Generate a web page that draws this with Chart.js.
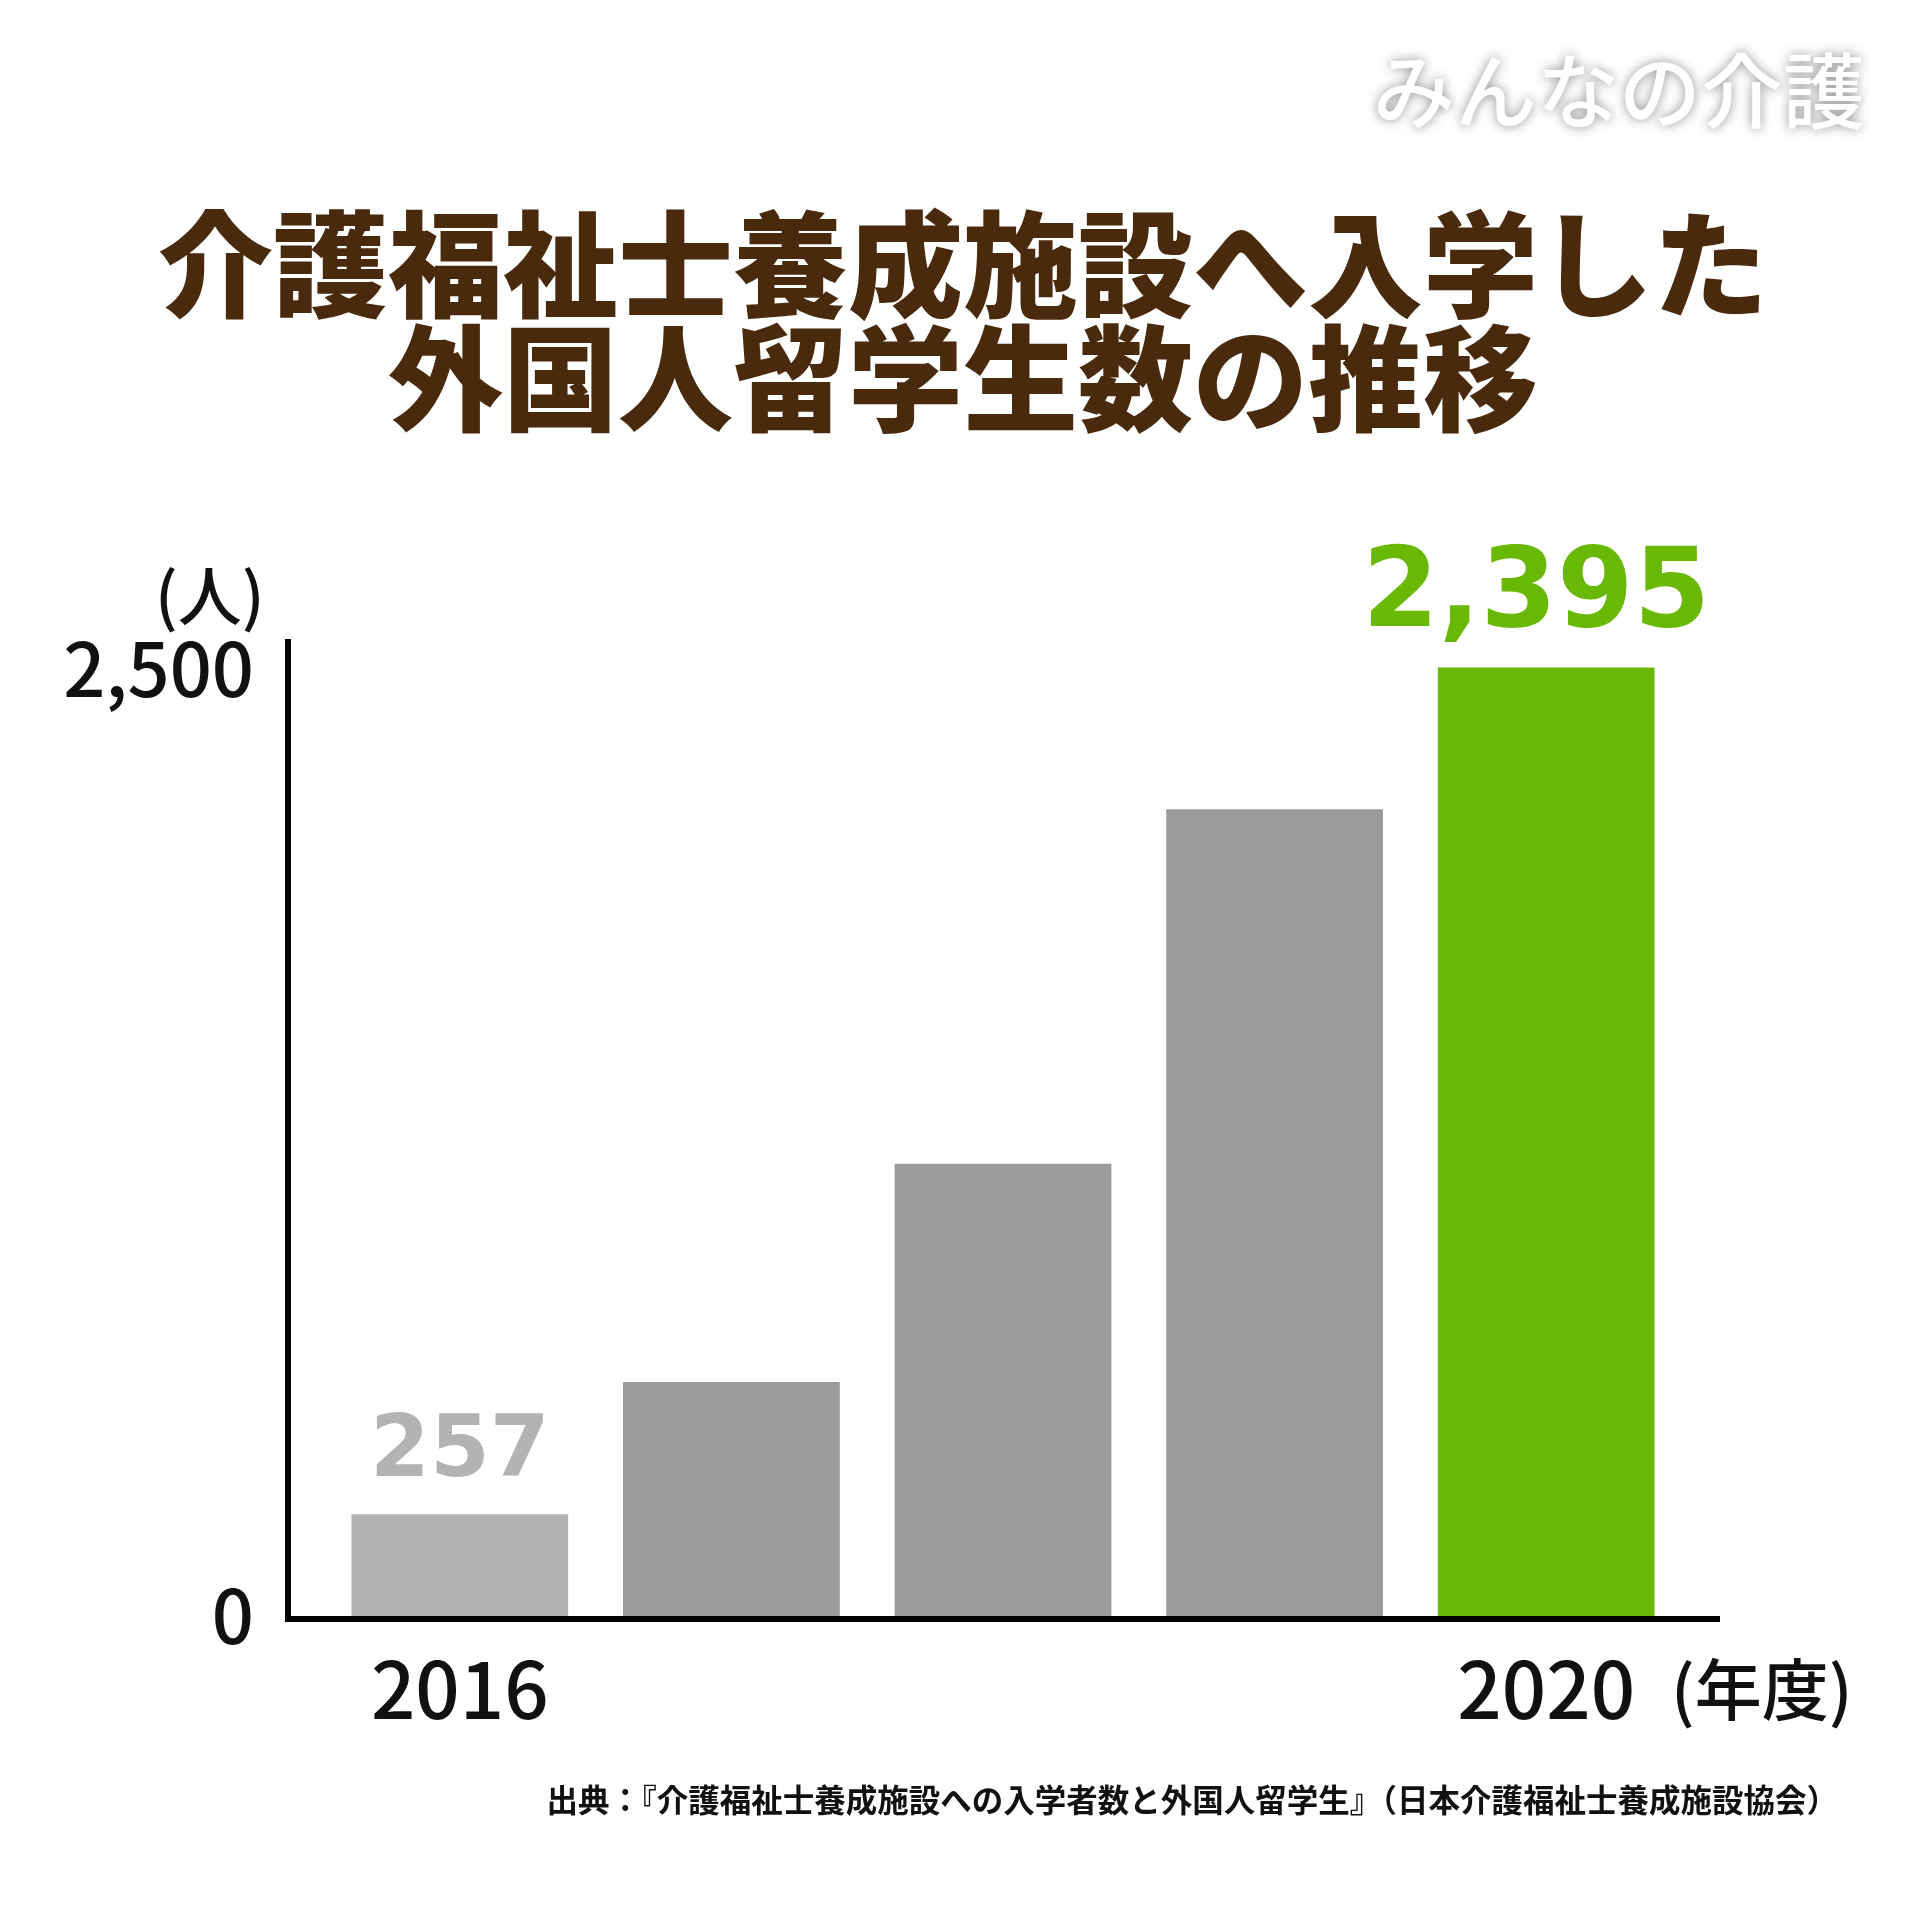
<!DOCTYPE html>
<html lang="ja">
<head>
<meta charset="utf-8">
<script src="https://cdn.jsdelivr.net/npm/chart.js@4/dist/chart.umd.min.js"></script>
<style>
  html, body { margin: 0; padding: 0; background: #fff; }
  #wrap { width: 1920px; height: 1920px; position: relative; }
</style>
</head>
<body>
<div id="wrap"><canvas id="chart" width="1920" height="1920"></canvas></div>
<script>
// Data
const years = ['2016', '2017', '2018', '2019', '2020'];
const students = [257, 591, 1142, 2037, 2395];
const barColors = ['#b3b3b3', '#9b9b9b', '#9b9b9b', '#9b9b9b', '#69b804'];
const labelColors = ['#b3b3b3', null, null, null, '#69b804'];
const yTicks = [0, 2500];

const titleLines = ['介護福祉士養成施設へ入学した', '外国人留学生数の推移'];
const sourceText = '出典：『介護福祉士養成施設への入学者数と外国人留学生』（日本介護福祉士養成施設協会）';

const JP = '"Noto Sans CJK JP", "Noto Sans", sans-serif';

// Text around the chart: logo, title, units, source
const decorations = {
  id: 'decorations',
  afterDraw(chart) {
    const ctx = chart.ctx;
    const area = chart.chartArea;
    ctx.save();

    // logo
    ctx.font = '500 82px ' + JP;
    ctx.textAlign = 'right';
    ctx.textBaseline = 'middle';
    ctx.shadowColor = 'rgba(0,0,0,0.45)';
    ctx.shadowBlur = 12;
    ctx.fillStyle = '#ffffff';
    ctx.fillText('みんなの介護', 1865, 91);
    ctx.shadowColor = 'transparent';
    ctx.shadowBlur = 0;

    // title
    ctx.font = '900 115px ' + JP;
    ctx.fillStyle = '#4a2a0c';
    ctx.textAlign = 'center';
    ctx.fillText(titleLines[0], 963, 264);
    ctx.fillText(titleLines[1], 963, 378);

    // axis lines
    ctx.strokeStyle = '#000';
    ctx.lineWidth = 6;
    ctx.beginPath();
    ctx.moveTo(area.left - 36, 639);
    ctx.lineTo(area.left - 36, area.bottom + 6);
    ctx.moveTo(area.left - 39, area.bottom + 3);
    ctx.lineTo(area.right + 38, area.bottom + 3);
    ctx.stroke();

    // units
    ctx.fillStyle = '#111';
    ctx.font = '500 64px ' + JP;
    ctx.textAlign = 'left';
    ctx.fillText('(人)', 155, 596);
    ctx.font = '500 67px ' + JP;
    ctx.fillText('(年度)', 1671, 1690);

    // source
    ctx.font = '700 31.5px ' + JP;
    ctx.textAlign = 'right';
    ctx.fillText(sourceText, 1838, 1800);

    // value labels on first and last bar
    const meta = chart.getDatasetMeta(0);
    ctx.textAlign = 'center';
    ctx.textBaseline = 'alphabetic';
    meta.data.forEach((bar, i) => {
      if (!labelColors[i]) return;
      const big = i === students.length - 1;
      ctx.font = (big ? '700 110px ' : '700 86px ') + '"DejaVu Sans", sans-serif';
      ctx.fillStyle = labelColors[i];
      ctx.fillText(students[i].toLocaleString('en-US'), bar.x - (big ? 10 : 0), bar.y - (big ? 42 : 38));
    });
    ctx.restore();
  }
};

const ctx = document.getElementById('chart').getContext('2d');
new Chart(ctx, {
  type: 'bar',
  data: {
    labels: years,
    datasets: [{
      data: students,
      backgroundColor: barColors,
      borderWidth: 0,
      barPercentage: 0.798,
      categoryPercentage: 1
    }]
  },
  options: {
    responsive: false,
    animation: false,
    layout: { padding: { top: 626, right: 238, bottom: 154, left: 0 } },
    plugins: {
      legend: { display: false },
      tooltip: { enabled: false }
    },
    scales: {
      x: {
        grid: { display: false, drawTicks: false },
        border: { display: false },
        afterFit(scale) { scale.height = 150; },
        ticks: {
          autoSkip: false,
          maxRotation: 0,
          padding: 27,
          color: '#111',
          font: { family: JP, size: 78, weight: '500', lineHeight: 1.2 },
          callback(value, i) {
            return (i === 0 || i === years.length - 1) ? years[i] : '';
          }
        }
      },
      y: {
        min: 0,
        max: 2500,
        grid: { display: false, drawTicks: false },
        border: { display: false },
        afterFit(scale) { scale.width = 324; },
        afterBuildTicks(scale) { scale.ticks = yTicks.map(v => ({ value: v })); },
        ticks: {
          padding: 70,
          color: '#111',
          font: { family: JP, size: 74, weight: '500', lineHeight: 1.15 },
          callback(value) {
            const s = value.toLocaleString('en-US');
            return value === yTicks[yTicks.length - 1] ? ['', s] : s;
          }
        }
      }
    }
  },
  plugins: [decorations]
});
</script>
</body>
</html>
